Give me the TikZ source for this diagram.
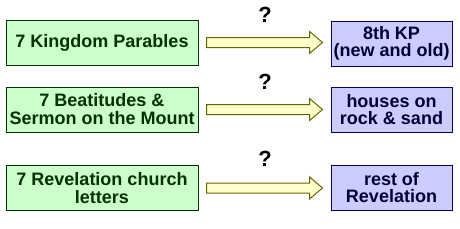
\documentclass[tikz,border=0pt]{standalone}
\usepackage{fontspec}
\setmainfont{Liberation Sans}
\usetikzlibrary{calc}
\definecolor{lfill}{HTML}{CCFFCC}
\definecolor{ldraw}{HTML}{003300}
\definecolor{ltext}{HTML}{003300}
\definecolor{rfill}{HTML}{CCCCFF}
\definecolor{rdraw}{HTML}{000066}
\definecolor{rtext}{HTML}{000033}
\definecolor{afill}{HTML}{FFFFCC}
\definecolor{adraw}{HTML}{666600}
\tikzset{
  lbox/.style={draw=ldraw, fill=lfill, line width=1pt, minimum width=192pt, minimum height=45pt,
    inner sep=0pt, align=center, text=ltext, font=\fontsize{18}{18}\selectfont\bfseries},
  rbox/.style={draw=rdraw, fill=rfill, line width=1pt, minimum width=121pt, minimum height=45pt,
    inner sep=0pt, align=center, text=rtext, font=\fontsize{18}{17}\selectfont\bfseries},
  barrow/.style={draw=adraw, fill=afill, line width=1pt, line join=miter},
  qmark/.style={inner sep=0pt, font=\fontsize{22}{22}\selectfont\bfseries},
}
\begin{document}
\begin{tikzpicture}[x=1pt,y=-1pt]
\useasboundingbox (0,0) rectangle (460,228);
\node[lbox] (l1) at (102,42.5) {7 Kingdom Parables};
\node[lbox] (l2) at (102,109.5) {7 Beatitudes \&\\Sermon on the Mount};
\node[lbox] (l3) at (102,188) {7 Revelation church\\letters};
\node[rbox] (r1) at (391.5,43.5) {8th KP\\(new and old)};
\node[rbox] (r2) at (391.5,109.5) {houses on\\rock \& sand};
\node[rbox] (r3) at (391.5,188) {rest of\\Revelation};
\node[qmark] (q1) at (265,15) {?};
\node[qmark] (q2) at (265,82) {?};
\node[qmark] (q3) at (265,159) {?};
\foreach \a/\b in {l1/r1,l2/r2,l3/r3}{
  \path[barrow] let \p1=($(\a.east)+(8pt,0)$), \p2=($(\b.west)+(-8pt,0)$) in
    (\x1,\y1+5pt) -- (\x2-13pt,\y1+5pt) -- (\x2-13pt,\y1+11pt) -- (\x2,\y1)
    -- (\x2-13pt,\y1-11pt) -- (\x2-13pt,\y1-5pt) -- (\x1,\y1-5pt) -- cycle;
}
\end{tikzpicture}
\end{document}
